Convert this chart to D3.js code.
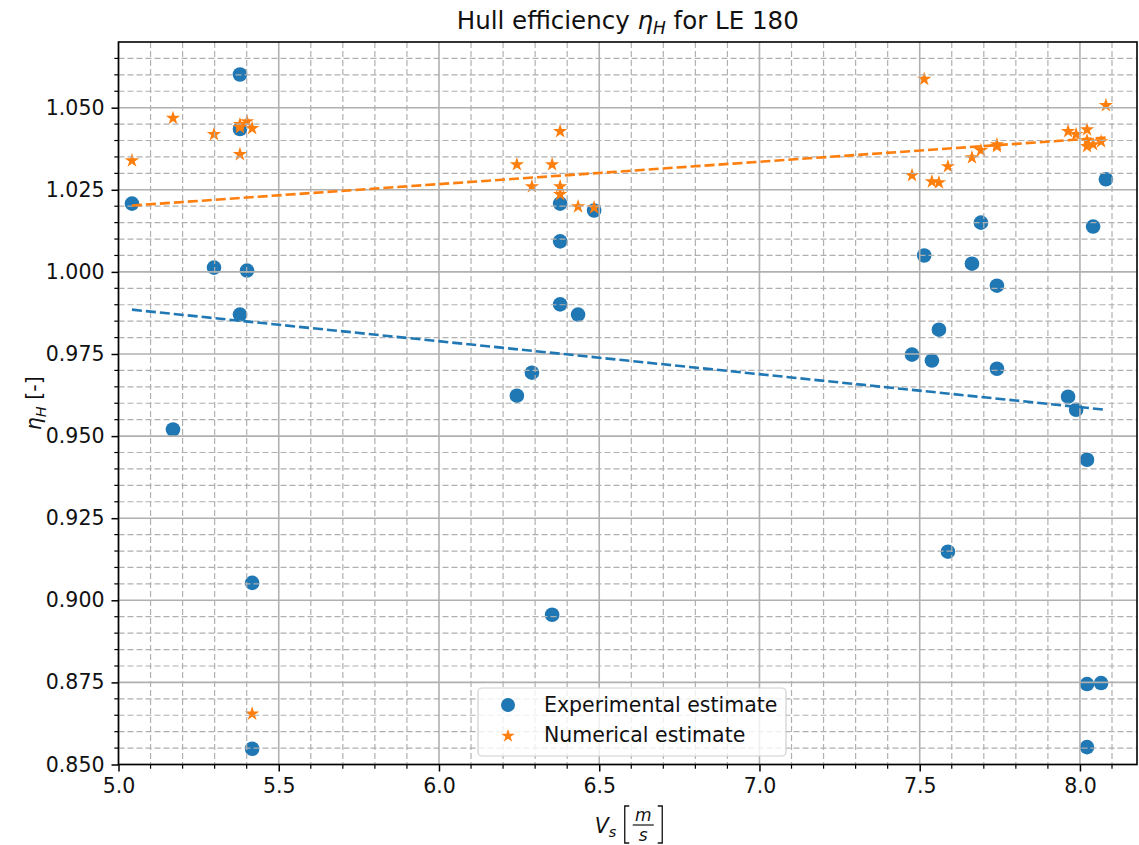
<!DOCTYPE html>
<html><head><meta charset="utf-8">
<script src="https://cdn.jsdelivr.net/npm/d3@7"></script>
<style>
html,body{margin:0;padding:0;background:#fff;}
svg{display:block;font-family:"DejaVu Sans",sans-serif;}
</style></head>
<body>
<svg id="chart" width="1139" height="845"></svg>
<script>
// ---- data ----
const speeds = [5.042,5.170,5.298,5.379,5.379,5.379,5.401,5.417,5.417,
  6.243,6.290,6.353,6.378,6.378,6.378,6.434,6.484,
  7.476,7.514,7.538,7.560,7.588,7.663,7.691,7.741,7.741,
  7.963,7.988,8.022,8.022,8.022,8.041,8.066,8.081];
const etaExperimental = [1.0208,0.9520,1.0013,1.0601,1.0435,0.9870,1.0004,0.9053,0.8548,
  0.9623,0.9693,0.8956,1.0208,1.0093,0.9901,0.9870,1.0187,
  0.9748,1.0050,0.9730,0.9824,0.9148,1.0025,1.0150,0.9958,0.9705,
  0.9620,0.9580,0.9428,0.8745,0.8553,1.0138,0.8748,1.0282];
const etaNumerical = [1.0339,1.0468,1.0419,1.0449,1.0358,1.0440,1.0458,1.0437,0.8654,
  1.0327,1.0260,1.0327,1.0428,1.0260,1.0236,1.0199,1.0196,
  1.0294,1.0587,1.0275,1.0272,1.0321,1.0348,1.0370,1.0388,1.0382,
  1.0428,1.0419,1.0433,1.0382,1.0400,1.0388,1.0397,1.0507];
// linear trend values at the ends of the speed range
const trendExperimental = [0.9885, 0.9580];
const trendNumerical = [1.0202, 1.0409];
const xTicks = [5.0,5.5,6.0,6.5,7.0,7.5,8.0];
const yTicks = [0.850,0.875,0.900,0.925,0.950,0.975,1.000,1.025,1.050];
const seriesNames = ["Experimental estimate","Numerical estimate"];
const colors = ["#1f77b4","#ff7f0e"];

// ---- layout ----
const L=118.5, R=1137, T=42, B=764.5;
const FS = 20.5;
const svg = d3.select("#chart");
const x = d3.scaleLinear().domain([5.0, 8.178]).range([L,R]);
const y = d3.scaleLinear().domain([0.85, 1.070]).range([B,T]);

const xMinor = d3.range(50,82).map(v=>v/10).filter(v=>xTicks.every(t=>Math.abs(t-v)>1e-6));
const yMinor = d3.range(170,215).map(v=>v/200).filter(v=>v<1.0699 && yTicks.every(t=>Math.abs(t-v)>1e-6));

// ---- scatter (below grid, as in matplotlib) ----
const gData = svg.append("g");
gData.selectAll("circle").data(speeds).join("circle")
  .attr("cx",(d)=>x(d)).attr("cy",(d,i)=>y(etaExperimental[i]))
  .attr("r",7.3).attr("fill",colors[0]);
const star = d3.symbol().type(d3.symbolStar).size(64);
gData.selectAll("path.star").data(speeds).join("path").attr("class","star")
  .attr("d",star)
  .attr("transform",(d,i)=>`translate(${x(d)},${y(etaNumerical[i])})`)
  .attr("fill",colors[1]);

// ---- grid ----
const gGrid = svg.append("g");
gGrid.selectAll("line.xmin").data(xMinor).join("line").attr("class","xmin")
  .attr("x1",d=>x(d)).attr("x2",d=>x(d)).attr("y1",T).attr("y2",B)
  .attr("stroke","#b0b0b0").attr("stroke-width",1.2).attr("stroke-dasharray","6,3");
gGrid.selectAll("line.ymin").data(yMinor).join("line").attr("class","ymin")
  .attr("y1",d=>y(d)).attr("y2",d=>y(d)).attr("x1",L).attr("x2",R)
  .attr("stroke","#b0b0b0").attr("stroke-width",1.2).attr("stroke-dasharray","6,3");
gGrid.selectAll("line.xmaj").data(xTicks).join("line").attr("class","xmaj")
  .attr("x1",d=>x(d)).attr("x2",d=>x(d)).attr("y1",T).attr("y2",B)
  .attr("stroke","#b0b0b0").attr("stroke-width",1.6);
gGrid.selectAll("line.ymaj").data(yTicks).join("line").attr("class","ymaj")
  .attr("y1",d=>y(d)).attr("y2",d=>y(d)).attr("x1",L).attr("x2",R)
  .attr("stroke","#b0b0b0").attr("stroke-width",1.6);

// ---- trend lines ----
const xs = [d3.min(speeds), d3.max(speeds)];
const line = d3.line().x(d=>x(d[0])).y(d=>y(d[1]));
[trendExperimental, trendNumerical].forEach((t,k)=>{
  svg.append("path").attr("d", line([[xs[0],t[0]],[xs[1],t[1]]]))
    .attr("fill","none").attr("stroke",colors[k]).attr("stroke-width",2.6)
    .attr("stroke-dasharray","10,4");
});

// ---- axes ----
const xAxis = d3.axisBottom(x).tickValues(xTicks).tickFormat(d3.format(".1f")).tickSize(7).tickPadding(7);
const gx = svg.append("g").attr("transform",`translate(0,${B})`).call(xAxis);
const yAxis = d3.axisLeft(y).tickValues(yTicks).tickFormat(d3.format(".3f")).tickSize(7).tickPadding(7);
const gy = svg.append("g").attr("transform",`translate(${L},0)`).call(yAxis);
[gx,gy].forEach(g=>{
  g.select(".domain").remove();
  g.selectAll(".tick line").attr("stroke","#000").attr("stroke-width",1.5);
  g.selectAll(".tick text").attr("font-size",FS).attr("fill","#111").attr("font-family","DejaVu Sans");
});
svg.append("g").selectAll("line").data(xMinor).join("line")
  .attr("x1",d=>x(d)).attr("x2",d=>x(d)).attr("y1",B).attr("y2",B+4.2).attr("stroke","#000").attr("stroke-width",1.2);
svg.append("g").selectAll("line").data(yMinor).join("line")
  .attr("y1",d=>y(d)).attr("y2",d=>y(d)).attr("x1",L).attr("x2",L-4.2).attr("stroke","#000").attr("stroke-width",1.2);
svg.append("rect").attr("x",L).attr("y",T).attr("width",R-L).attr("height",B-T)
  .attr("fill","none").attr("stroke","#000").attr("stroke-width",1.6);

// ---- title ----
const title = svg.append("text").attr("x",(L+R)/2).attr("y",29).attr("text-anchor","middle")
  .attr("font-size",24.5).attr("fill","#111");
title.append("tspan").text("Hull efficiency ");
title.append("tspan").attr("font-style","italic").text("η");
title.append("tspan").attr("font-style","italic").attr("font-size",17).attr("dy",5).text("H");
title.append("tspan").attr("dy",-5).text(" for LE 180");

// ---- y label ----
const yl = svg.append("text").attr("transform",`translate(41,${(T+B)/2}) rotate(-90)`)
  .attr("text-anchor","middle").attr("font-size",FS).attr("fill","#111");
yl.append("tspan").attr("font-style","italic").text("η");
yl.append("tspan").attr("font-style","italic").attr("font-size",14.5).attr("dy",5).text("H");
yl.append("tspan").attr("dy",-5).text(" [-]");

// ---- x label ----
const xl = svg.append("g").attr("fill","#111").attr("stroke","none");
const cx = (L+R)/2;
xl.append("text").attr("x",cx-33).attr("y",833).attr("font-size",FS).attr("font-style","italic").text("V");
xl.append("text").attr("x",cx-19).attr("y",837).attr("font-size",14.5).attr("font-style","italic").text("s");
xl.append("path").attr("d",`M${cx+1.5},806 L${cx-3},806 L${cx-3},843 L${cx+1.5},843`).attr("fill","none").attr("stroke","#111").attr("stroke-width",1.3);
xl.append("path").attr("d",`M${cx+30},806 L${cx+34.5},806 L${cx+34.5},843 L${cx+30},843`).attr("fill","none").attr("stroke","#111").attr("stroke-width",1.3);
xl.append("text").attr("x",cx+15.5).attr("y",821).attr("font-size",17).attr("font-style","italic").attr("text-anchor","middle").text("m");
xl.append("line").attr("x1",cx+5).attr("x2",cx+26).attr("y1",825).attr("y2",825).attr("stroke","#111").attr("stroke-width",1.2);
xl.append("text").attr("x",cx+15.5).attr("y",841).attr("font-size",17).attr("font-style","italic").attr("text-anchor","middle").text("s");

// ---- legend ----
const lg = svg.append("g");
lg.append("rect").attr("x",478).attr("y",688).attr("width",308).attr("height",68).attr("rx",4)
  .attr("fill","#fff").attr("fill-opacity",0.8).attr("stroke","#d0d0d0").attr("stroke-width",1.2);
lg.append("circle").attr("cx",508).attr("cy",705).attr("r",7).attr("fill",colors[0]);
lg.append("path").attr("d",d3.symbol().type(d3.symbolStar).size(58)()).attr("transform","translate(508,736)").attr("fill",colors[1]);
lg.selectAll("text").data(seriesNames).join("text").attr("x",544).attr("y",(d,i)=>712+i*30)
  .attr("font-size",FS).attr("fill","#111").text(d=>d);
</script>
</body></html>
